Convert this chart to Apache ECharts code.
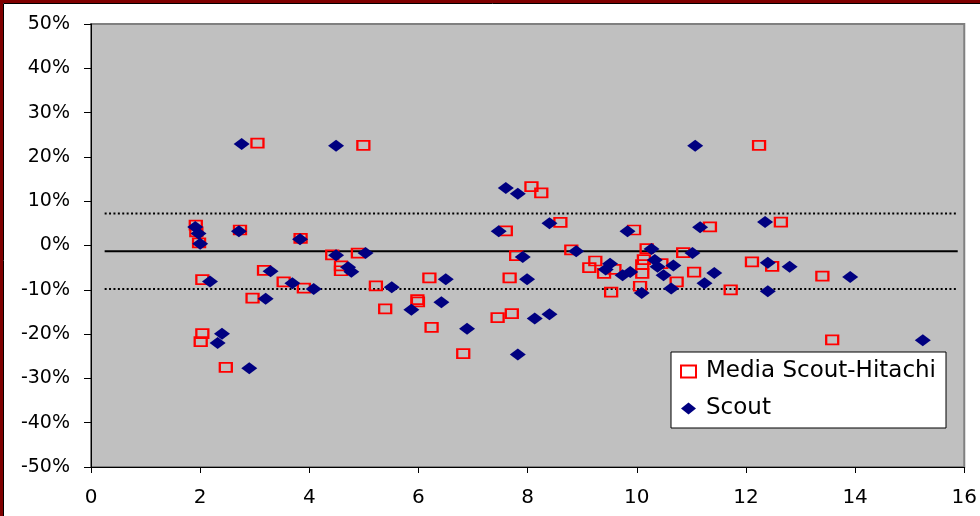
<!DOCTYPE html>
<html>
<head>
<meta charset="utf-8">
<script src="https://cdn.jsdelivr.net/npm/echarts@6/dist/echarts.min.js"></script>
<style>
  html, body { margin: 0; padding: 0; background: #fff; }
  #chart { width: 980px; height: 516px; }
</style>
</head>
<body>
<div id="chart"></div>
<script>
const chart = echarts.init(document.getElementById('chart'));

// Media Scout-Hitachi (hollow red squares)
const mediaX = [1.92, 1.93, 1.98, 2.01, 2.04, 2.04, 2.47, 2.73, 2.96, 3.05, 3.17, 3.53, 3.84, 3.90,
  4.42, 4.58, 4.58, 4.89, 4.99, 5.22, 5.39, 5.98, 5.99, 6.20, 6.24, 6.82, 7.45, 7.60, 7.67, 7.71,
  7.79, 8.07, 8.25, 8.60, 8.80, 9.13, 9.24, 9.40, 9.53, 9.59, 9.95, 10.06, 10.10, 10.10, 10.13,
  10.18, 10.45, 10.73, 10.85, 11.05, 11.34, 11.72, 12.11, 12.24, 12.48, 12.64, 13.40, 13.58];
const mediaY = [4.6, 3.1, 0.6, -21.7, -19.9, -7.7, -27.5, 3.5, -11.9, 23.1, -5.6, -8.2, 1.6, -9.6,
  -2.1, -4.6, -5.7, -1.7, 22.6, -9.1, -14.3, -12.2, -12.7, -7.3, -18.5, -24.4, -16.3, 3.3, -7.3, -15.4,
  -2.3, 13.3, 11.9, 5.2, -1.0, -5.0, -3.5, -6.3, -10.5, -5.4, 3.5, -9.2, -4.3, -6.3, -3.2,
  -0.7, -4.1, -8.2, -1.6, -6.0, 4.2, -10.0, -3.7, 22.6, -4.7, 5.3, -6.9, -21.3];

// Scout (navy diamonds)
const scoutX = [1.91, 1.97, 2.00, 2.18, 2.32, 2.40, 2.71, 2.76, 2.90, 3.20, 3.29, 3.69, 3.83, 4.08,
  4.49, 4.49, 4.71, 4.77, 5.03, 5.51, 5.87, 6.42, 6.50, 6.89, 7.47, 7.60, 7.82, 7.82, 7.91, 7.99,
  8.13, 8.40, 8.40, 8.89, 9.43, 9.51, 9.74, 9.83, 9.88, 10.09, 10.27, 10.33, 10.38, 10.49, 10.63,
  10.67, 11.02, 11.07, 11.16, 11.24, 11.42, 12.35, 12.40, 12.40, 12.80, 13.91, 15.24];
const scoutY = [4.2, 2.7, 0.4, -8.1, -22.0, -19.9, 3.2, 22.9, -27.7, -12.0, -5.8, -8.5, 1.4, -9.8,
  22.5, -2.2, -4.9, -5.9, -1.7, -9.4, -14.5, -12.8, -7.6, -18.8, 3.2, 13.0, 11.7, -24.6, -2.6, -7.6,
  -16.5, -15.5, 5.0, -1.3, -5.4, -4.1, -6.7, 3.2, -6.0, -10.7, -0.8, -3.3, -4.8, -6.7, -9.7,
  -4.5, -1.7, 22.5, 4.1, -8.5, -6.2, 5.3, -3.9, -10.3, -4.8, -7.1, -21.4];

// reference lines: mean and the band around it
const refX = [0.25, 15.88];
const meanY = -1.3;
const upperY = 7.2;
const lowerY = -9.8;

const yTicks = { min: -50, max: 50, step: 10 };
const xTicks = { min: 0, max: 16, step: 2 };

const zip = (xs, ys) => xs.map((x, i) => [x, ys[i]]);
const flat = (y) => refX.map(x => [x, y]);

const font = 'DejaVu Sans';

const option = {
  animation: false,
  backgroundColor: '#fff',
  grid: {
    left: 91, top: 24, right: 12, bottom: 49,
    show: true,
    backgroundColor: '#C0C0C0',
    borderColor: '#808080',
    borderWidth: 2
  },
  legend: {
    orient: 'vertical',
    left: 671, top: 352,
    backgroundColor: '#fff',
    borderColor: '#000',
    borderWidth: 1,
    padding: [8, 10, 8, 9],
    itemGap: 14,
    itemWidth: 15,
    itemHeight: 12,
    textStyle: { fontFamily: font, fontSize: 23, color: '#000', padding: [0, 0, 0, 5] },
    data: [
      { name: 'Media Scout-Hitachi', icon: 'rect',
        itemStyle: { color: 'rgba(0,0,0,0)', borderColor: '#FF0000', borderWidth: 2 } },
      { name: 'Scout', icon: 'diamond', itemStyle: { color: '#000080' } }
    ]
  },
  xAxis: {
    type: 'value',
    min: xTicks.min, max: xTicks.max, interval: xTicks.step,
    axisLine: { show: true, onZero: false, lineStyle: { color: '#000', width: 1 } },
    axisTick: { show: true, inside: false, length: 6, lineStyle: { color: '#000' } },
    axisLabel: { color: '#000', fontFamily: font, fontSize: 20, margin: 21 },
    splitLine: { show: false }
  },
  yAxis: {
    type: 'value',
    min: yTicks.min, max: yTicks.max, interval: yTicks.step,
    axisLine: { show: true, lineStyle: { color: '#000', width: 1 } },
    axisTick: { show: true, inside: false, length: 7, lineStyle: { color: '#000' } },
    axisLabel: { color: '#000', fontFamily: font, fontSize: 19, margin: 21, formatter: '{value}%' },
    splitLine: { show: false }
  },
  series: [
    {
      type: 'line', data: flat(meanY), symbol: 'none', silent: true,
      lineStyle: { color: '#000', width: 2 }, z: 1
    },
    {
      type: 'line', data: flat(upperY), symbol: 'none', silent: true,
      lineStyle: { color: '#000', width: 2, type: [2, 2.4] }, z: 1
    },
    {
      type: 'line', data: flat(lowerY), symbol: 'none', silent: true,
      lineStyle: { color: '#000', width: 2, type: [2, 2.4] }, z: 1
    },
    {
      name: 'Media Scout-Hitachi',
      type: 'scatter',
      symbol: 'rect',
      symbolSize: [12, 9],
      itemStyle: { color: 'rgba(0,0,0,0)', borderColor: '#FF0000', borderWidth: 2, opacity: 1 },
      data: zip(mediaX, mediaY),
      z: 2
    },
    {
      name: 'Scout',
      type: 'scatter',
      symbol: 'diamond',
      symbolSize: [16, 12],
      itemStyle: { color: '#000080', opacity: 1 },
      data: zip(scoutX, scoutY),
      z: 3
    }
  ],
  graphic: [
    { type: 'rect', silent: true, z: 100,
      shape: { x: 1.5, y: 1.5, width: 1100, height: 700 },
      style: { fill: 'none', stroke: '#7f0000', lineWidth: 3 } },
    { type: 'rect', silent: true, z: 100,
      shape: { x: 3.5, y: 3.5, width: 1100, height: 700 },
      style: { fill: 'none', stroke: '#000', lineWidth: 1 } }
  ]
};

chart.setOption(option);
window.addEventListener('resize', function () { chart.resize(); });
</script>
</body>
</html>
